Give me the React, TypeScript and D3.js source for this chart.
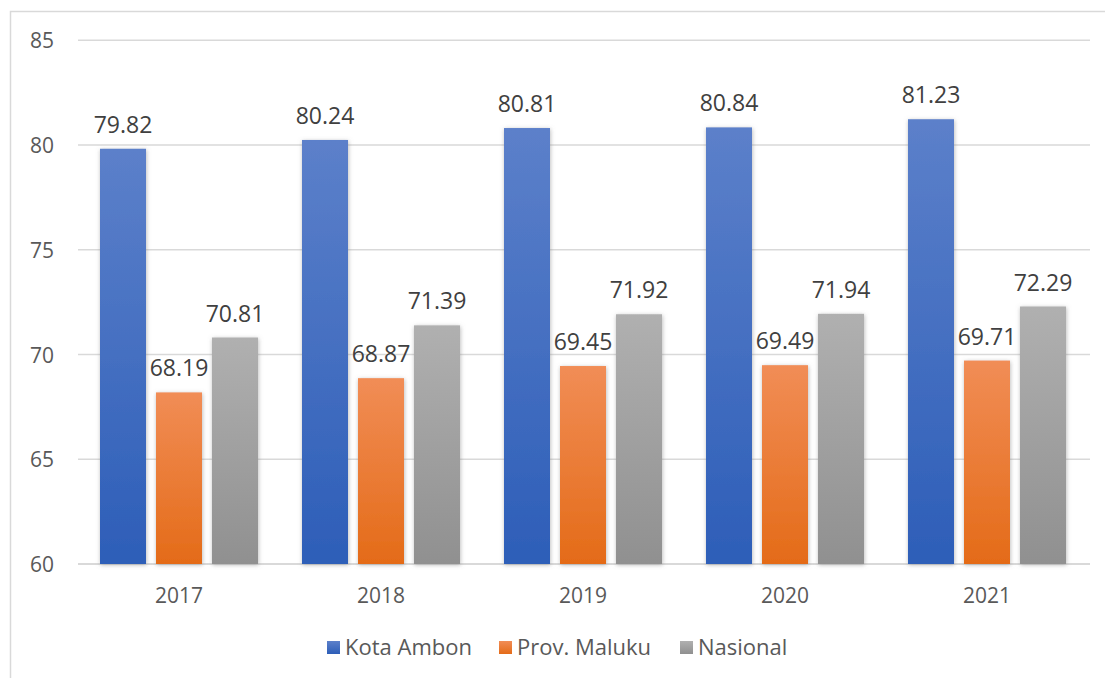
import React from "react";
import * as d3 from "d3";

const years = ["2017", "2018", "2019", "2020", "2021"];
const kotaAmbon = [79.82, 80.24, 80.81, 80.84, 81.23];
const provMaluku = [68.19, 68.87, 69.45, 69.49, 69.71];
const nasional = [70.81, 71.39, 71.92, 71.94, 72.29];
const seriesNames = ["Kota Ambon", "Prov. Maluku", "Nasional"];
const yTicks = [60, 65, 70, 75, 80, 85];

const W = 1105;
const H = 678;
const FONT = "'Open Sans', 'DejaVu Sans', sans-serif";

const gradients = [
  { id: "gBlue", top: "#5C80CA", bottom: "#2D5EB8" },
  { id: "gOrange", top: "#F18D56", bottom: "#E46B18" },
  { id: "gGray", top: "#B0B0B0", bottom: "#909090" },
];

export default function App() {
  const series = [kotaAmbon, provMaluku, nasional];
  const x0 = d3.scaleBand<string>().domain(years).range([78, 1088]).paddingInner(0).paddingOuter(0);
  const y = d3.scaleLinear().domain([60, 85]).range([564, 40.25]);
  const barW = 46;
  const step = 56;

  const legendItems = [
    { x: 327, textX: 345 },
    { x: 499, textX: 517 },
    { x: 680, textX: 698 },
  ];

  return (
    <svg width={W} height={H} style={{ display: "block", position: "absolute", left: 0, top: 0 }}>
      <defs>
        {gradients.map((g) => (
          <linearGradient key={g.id} id={g.id} x1="0" y1="0" x2="0" y2="1">
            <stop offset="0%" stopColor={g.top} />
            <stop offset="100%" stopColor={g.bottom} />
          </linearGradient>
        ))}
        <filter id="shadow" x="-30%" y="-10%" width="160%" height="120%">
          <feDropShadow dx="0.5" dy="1" stdDeviation="2" floodColor="#808080" floodOpacity="0.55" />
        </filter>
      </defs>
      <rect x={0} y={0} width={W} height={H} fill="#ffffff" />
      <path d={`M10.5,${H} L10.5,11.5 L${W},11.5`} fill="none" stroke="#d9d9d9" strokeWidth={1.5} />
      {yTicks.map((t) => (
        <g key={t}>
          <line x1={78} x2={1090} y1={y(t)} y2={y(t)} stroke="#d9d9d9" strokeWidth={t === 60 ? 2 : 1.5} />
          <text x={54} y={y(t) + 8} textAnchor="end" fontFamily={FONT} fontSize={21} fill="#595959">
            {t}
          </text>
        </g>
      ))}
      {years.map((yr, i) => {
        const cx = (x0(yr) as number) + x0.bandwidth() / 2;
        return (
          <g key={yr}>
            {series.map((s, j) => {
              const bx = cx + (j - 1) * step - barW / 2;
              const top = y(s[i]);
              return (
                <g key={j}>
                  <rect
                    x={bx}
                    y={top}
                    width={barW}
                    height={y(60) - top}
                    fill={`url(#${gradients[j].id})`}
                    filter="url(#shadow)"
                  />
                  <text
                    x={bx + barW / 2}
                    y={top - 16}
                    textAnchor="middle"
                    fontFamily={FONT}
                    fontSize={23}
                    fill="#404040"
                  >
                    {s[i].toFixed(2)}
                  </text>
                </g>
              );
            })}
            <text x={cx} y={603} textAnchor="middle" fontFamily={FONT} fontSize={21} fill="#595959">
              {yr}
            </text>
          </g>
        );
      })}
      {seriesNames.map((n, j) => (
        <g key={n}>
          <rect x={legendItems[j].x} y={641} width={13} height={13} fill={`url(#${gradients[j].id})`} />
          <text x={legendItems[j].textX} y={655} fontFamily={FONT} fontSize={22} fill="#595959">
            {n}
          </text>
        </g>
      ))}
    </svg>
  );
}
